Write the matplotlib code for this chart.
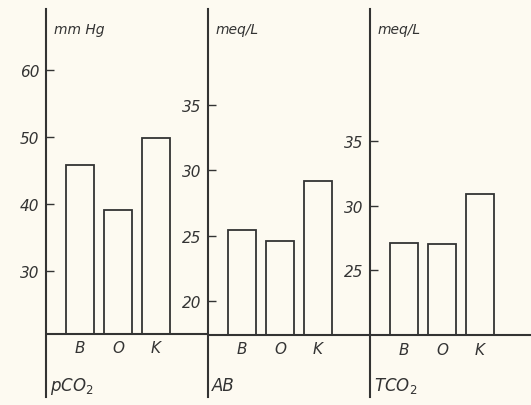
import numpy as np
import matplotlib
matplotlib.use('Agg')
import matplotlib.pyplot as plt

# categories and measured values for the three panels
cats = ['B', 'O', 'K']
pco2 = [45.8, 39.1, 49.9]
ab = [25.4, 24.6, 29.2]
tco2 = [27.1, 27.0, 30.9]

units = ['mm Hg', 'meq/L', 'meq/L']
names = ['pCO$_2$', 'AB', 'TCO$_2$']
yticks = [[30, 40, 50, 60], [20, 25, 30, 35], [25, 30, 35]]
# value at the common baseline and the y-range of each panel
base = [20.6, 17.4, 19.9]
ylims = [(11.2, 69.1), (12.6, 42.4), (15.1, 45.3)]

bg = '#fdfaf1'
ink = '#333333'

W, H = 531, 406
fig = plt.figure(figsize=(W / 100, H / 100), dpi=100)
fig.patch.set_facecolor(bg)

plt.rcParams['font.family'] = 'DejaVu Sans'
plt.rcParams['mathtext.default'] = 'it'

axis_x = [46, 208, 370]
top, bottom = 10, 398
xc = np.array([34, 72, 110])

for i, vals in enumerate([pco2, ab, tco2]):
    w = (W - axis_x[i]) if i == 2 else 162
    ax = fig.add_axes([axis_x[i] / W, (H - bottom) / H, w / W, (bottom - top) / H])
    ax.set_facecolor(bg)
    ax.set_xlim(0, w)
    ax.set_ylim(*ylims[i])

    # bars sit on the shared baseline
    heights = np.array(vals) - base[i]
    ax.bar(xc, heights, width=28, bottom=base[i], facecolor='none',
           edgecolor=ink, linewidth=1.3)
    ax.axhline(base[i], color=ink, linewidth=1.5)

    for s in ['top', 'right', 'bottom']:
        ax.spines[s].set_visible(False)
    ax.spines['left'].set_color(ink)
    ax.spines['left'].set_linewidth(1.5)
    ax.set_xticks([])
    ax.set_yticks(yticks[i])
    ax.tick_params(axis='y', direction='in', length=6, width=1, color=ink,
                   labelcolor=ink, labelsize=11, pad=5)
    for lab in ax.get_yticklabels():
        lab.set_fontstyle('italic')

    # category letters under the bars
    for x, c in zip(xc, cats):
        ax.annotate(c, (x, base[i]), xytext=(0, -10), textcoords='offset points',
                    ha='center', va='center', fontsize=11, style='italic', color=ink)

    tr = ax.get_xaxis_transform()
    ax.text(8, 0.948, units[i], transform=tr, ha='left', va='center',
            fontsize=10, style='italic', color=ink)
    ax.text(4, 0.018, names[i], transform=tr, ha='left', va='baseline',
            fontsize=12, style='italic', color=ink)

plt.savefig('out.png', dpi=100, facecolor=bg)
